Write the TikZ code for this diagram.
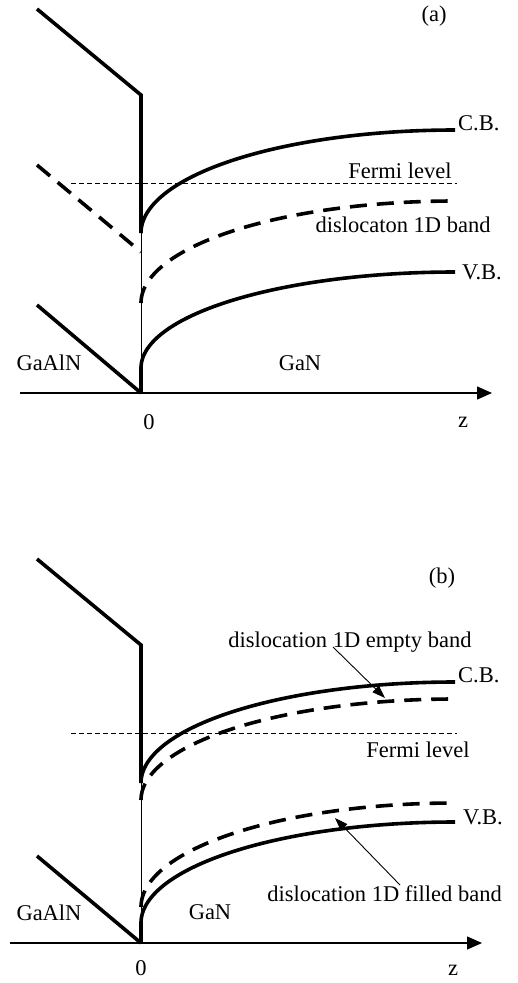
\documentclass[tikz,border=0pt]{standalone}
\usepackage{fontspec}
\setmainfont{Liberation Serif}
\usetikzlibrary{arrows.meta}
\begin{document}
\begin{tikzpicture}[x=1pt,y=-1pt,
  band/.style={line width=3.6pt},
  dband/.style={line width=3.6pt, dash pattern=on 17pt off 10pt},
  fermi/.style={line width=0.9pt, dash pattern=on 5pt off 3pt},
  thinline/.style={line width=1pt},
  axisline/.style={line width=1.3pt, -{Triangle[length=15pt,width=13pt]}},
  pointer/.style={line width=0.9pt, -{Triangle[length=13pt,width=9pt]}},
  lbl/.style={font=\fontsize{22.5}{27}\selectfont, inner sep=0pt},
]
\useasboundingbox (0,0) rectangle (518,983);

% ---------------- panel (a) ----------------
\coordinate (aU1) at (37,9);
\coordinate (aU2) at (141,95);
\coordinate (aU3) at (141,233);
\coordinate (aD1) at (37,165);
\coordinate (aD2) at (141,252);
\coordinate (aL1) at (37,305);
\coordinate (aO) at (141,393);
\coordinate (aV) at (141,368);
\coordinate (aF1) at (71,183);
\coordinate (aF2) at (457,183);
\coordinate (aX1) at (20,393);
\coordinate (aX2) at (492,393);

\draw[band] (aU1) -- (aU2) -- (aU3);
\draw[band] plot[domain=0:90,samples=90,smooth] ({455-314*cos(\x)},{233-103*sin(\x)});
\draw[thinline] (aU3) -- (aO);
\draw[fermi] (aF1) -- (aF2);
\draw[dband] (aD1) -- (aD2);
\draw[dband] plot[domain=0:90,samples=90,smooth] ({455-314*cos(\x)},{303-102*sin(\x)});
\draw[band] (aO) -- (aV);
\draw[band] plot[domain=0:90,samples=90,smooth] ({455-314*cos(\x)},{368-96*sin(\x)});
\draw[band] (aL1) -- (aO);
\draw[axisline] (aX1) -- (aX2);

\node[lbl] (aT) at (434,16) {(a)};
\node[lbl,anchor=mid west] (aCB) at (458,128) {C.B.};
\node[lbl] (aFL) at (400,171) {Fermi level};
\node[lbl] (aDB) at (403,225) {dislocaton 1D band};
\node[lbl,anchor=mid west] (aVB) at (462,277) {V.B.};
\node[lbl] (aGaAlN) at (49,363) {GaAlN};
\node[lbl] (aGaN) at (300,363) {GaN};
\node[lbl] (aZero) at (149,422) {0};
\node[lbl] (aZ) at (463,422) {z};

% ---------------- panel (b) ----------------
\coordinate (bU1) at (37,559);
\coordinate (bU2) at (141,645);
\coordinate (bU3) at (141,783);
\coordinate (bL1) at (37,856);
\coordinate (bO) at (141,943);
\coordinate (bV) at (141,923);
\coordinate (bF1) at (71,733);
\coordinate (bF2) at (457,733);
\coordinate (bX1) at (10,943);
\coordinate (bX2) at (482,943);

\draw[band] (bU1) -- (bU2) -- (bU3);
\draw[band] plot[domain=0:90,samples=90,smooth] ({455-314*cos(\x)},{783-101*sin(\x)});
\draw[dband] plot[domain=0:90,samples=90,smooth] ({455-314*cos(\x)},{800-101*sin(\x)});
\draw[thinline] (bU3) -- (bO);
\draw[fermi] (bF1) -- (bF2);
\draw[dband] plot[domain=0:90,samples=90,smooth] ({455-314*cos(\x)},{907-104*sin(\x)});
\draw[band] (bO) -- (bV);
\draw[band] plot[domain=0:90,samples=90,smooth] ({455-314*cos(\x)},{923-101*sin(\x)});
\draw[band] (bL1) -- (bO);
\draw[axisline] (bX1) -- (bX2);

\node[lbl] (bT) at (442,578) {(b)};
\node[lbl] (bEB) at (350,642) {dislocation 1D empty band};
\node[lbl,anchor=mid west] (bCB) at (458,680) {C.B.};
\node[lbl] (bFL) at (418,750) {Fermi level};
\node[lbl,anchor=mid west] (bVB) at (463,822) {V.B.};
\node[lbl,anchor=mid east] (bFB) at (502,899) {dislocation 1D filled band};
\node[lbl] (bGaAlN) at (49,913) {GaAlN};
\node[lbl] (bGaN) at (210,912) {GaN};
\node[lbl] (bZero) at (141,968) {0};
\node[lbl] (bZ) at (453,970) {z};

\coordinate (e1s) at (333,647);
\coordinate (e1t) at (385,698);
\coordinate (f1s) at (400,885);
\coordinate (f1t) at (335,818);
\draw[pointer] (e1s) -- (e1t);
\draw[pointer] (f1s) -- (f1t);
\end{tikzpicture}
\end{document}
